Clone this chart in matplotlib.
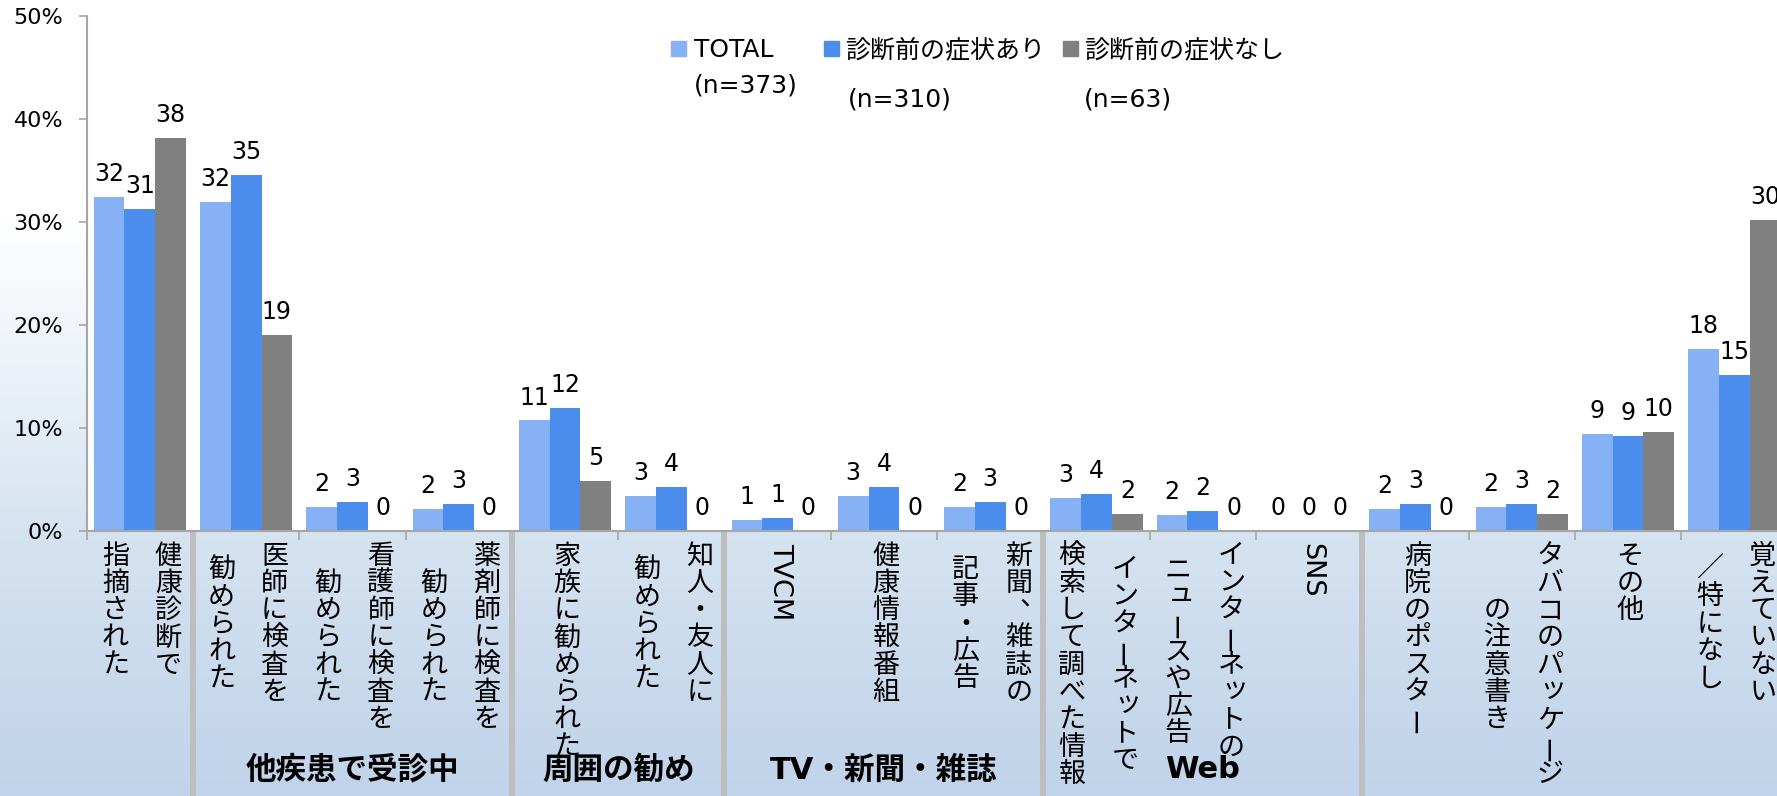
import matplotlib
matplotlib.use("Agg")
import matplotlib.pyplot as plt
import matplotlib.transforms as mtransforms
from matplotlib.patches import Rectangle
import numpy as np

W, H = 1777, 796

# category labels: first entry = right-hand column of the vertical text
categories = [
    ["健康診断で", "指摘された"],
    ["医師に検査を", "勧められた"],
    ["看護師に検査を", "勧められた"],
    ["薬剤師に検査を", "勧められた"],
    ["家族に勧められた"],
    ["知人・友人に", "勧められた"],
    ["TVCM"],
    ["健康情報番組"],
    ["新聞、雑誌の", "記事・広告"],
    ["インターネットで", "検索して調べた情報"],
    ["インターネットの", "ニュースや広告"],
    ["SNS"],
    ["病院のポスター"],
    ["タバコのパッケージ", "の注意書き"],
    ["その他"],
    ["覚えていない", "／特になし"],
]
groups = ["他疾患で受診中", "周囲の勧め", "TV・新聞・雑誌", "Web"]
group_spans = [(1, 3), (4, 5), (6, 8), (9, 11)]
separators = [1, 4, 6, 9, 12]

series_names = ["TOTAL", "診断前の症状あり", "診断前の症状なし"]
series_n = ["(n=373)", "(n=310)", "(n=63)"]
total = [32.4, 31.9, 2.3, 2.1, 10.7, 3.4, 1.0, 3.4, 2.3, 3.2, 1.55, 0, 2.1, 2.3, 9.4, 17.6]
with_sym = [31.2, 34.55, 2.8, 2.6, 11.9, 4.2, 1.2, 4.2, 2.8, 3.55, 1.9, 0, 2.6, 2.6, 9.2, 15.1]
without_sym = [38.1, 19.0, 0, 0, 4.8, 0, 0, 0, 0, 1.6, 0, 0, 0, 1.6, 9.55, 30.2]
colors = ["#86B1F5", "#4A8DED", "#808080"]

plt.rcParams['font.family'] = ['DejaVu Sans', 'Noto Sans CJK JP']

fig = plt.figure(figsize=(W / 100, H / 100), dpi=100)

# background gradient (white at top, pale blue at the bottom)
bg = fig.add_axes([0, 0, 1, 1], zorder=-10)
ys = np.arange(H)
stops_y = [0, 220, 540, 796]
stops_c = np.array([[255, 255, 255], [255, 255, 255], [213, 226, 240], [192, 211, 234]]) / 255
grad = np.stack([np.interp(ys, stops_y, stops_c[:, k]) for k in range(3)], axis=-1)[:, None, :]
bg.imshow(grad, aspect='auto', extent=[0, 1, 0, 1])
bg.axis('off')

# plot area: runs slightly past the right edge like the cropped original
left_px, bottom_px, top_px = 86.7, 530.7, 15.7
right_px = 1787.5
ax = fig.add_axes([left_px / W, 1 - bottom_px / H, (right_px - left_px) / W, (bottom_px - top_px) / H])
ax.set_facecolor('white')
pxc = (right_px - left_px) / len(categories)

x = np.arange(len(categories))
bw = 0.289
for k, vals in enumerate([total, with_sym, without_sym]):
    off = (k - 1) * bw
    ax.bar(x + off, vals, width=bw, color=colors[k], zorder=2)
    for xi, v in zip(x, vals):
        ax.annotate(f"{v:.0f}", (xi + off, v), xytext=(0, 11.5), textcoords='offset points',
                    ha='center', va='baseline', fontsize=17, color='black')

ax.set_xlim(-0.5, len(categories) - 0.5)
ax.set_ylim(0, 50)
ax.set_yticks(range(0, 51, 10))
ax.set_yticklabels([f"{t}%" for t in range(0, 51, 10)], fontsize=16)
ax.set_xticks(np.arange(len(categories) + 1) - 0.5)
ax.set_xticklabels([])
ax.tick_params(axis='y', length=5.8, width=1.2, pad=11, color='#a6a6a6')
ax.tick_params(axis='x', length=6.5, width=1.2, color='#a6a6a6')
for s in ['top', 'right']:
    ax.spines[s].set_visible(False)
for s in ['left', 'bottom']:
    ax.spines[s].set_color('#a6a6a6')
    ax.spines[s].set_linewidth(1.5)

trans = mtransforms.blended_transform_factory(ax.transData, fig.transFigure)

# vertical (tategaki) category labels
pitch = 27.3
y_first = 556
small_kana = 'ッャュョァィゥェォっゃゅょ'
for i, lines in enumerate(categories):
    if len(lines) == 1:
        col_dx = [2]
    else:
        col_dx = [28.5, -24.5]
    longest = max(len(s) for s in lines)
    for line, dx in zip(lines, col_dx):
        xd = i + dx / pxc
        if line.isascii():
            ax.text(xd, 1 - 543 / H, line, transform=trans, rotation=-90, ha='center', va='top',
                    fontsize=19.5, family=['DejaVu Sans'])
            continue
        y0 = y_first + (longest - len(line)) / 2 * pitch
        for j, ch in enumerate(line):
            cx, cy, rot = 0, 0, 0
            if ch == 'ー':
                rot = 90
            elif ch in small_kana:
                cx, cy = 3, -3
            elif ch in '、。':
                cx, cy = 14, -14
            ax.text(xd + cx / pxc, 1 - (y0 + j * pitch + cy) / H, ch, transform=trans,
                    rotation=rot, rotation_mode='anchor', ha='center', va='center',
                    fontsize=19.5, family=['Noto Sans CJK JP'])

# group separators and group titles
for b in separators:
    ax.plot([b - 0.5, b - 0.5], [1 - 531.5 / H, 0], transform=trans, clip_on=False,
            color='#bebebe', lw=4.3, solid_capstyle='butt')
for name, (a, b) in zip(groups, group_spans):
    ax.text((a + b) / 2, 1 - 770 / H, name, transform=trans, ha='center', va='center',
            fontsize=22, fontweight='bold')

# legend drawn as in the original (wrapped entries)
sq_x = [671, 823.5, 1062.5]
txt_x = [693.8, 844.6, 1084]
n_base = [93, 106.5, 106.5]
for k in range(3):
    fig.add_artist(Rectangle((sq_x[k] / W, 1 - 56 / H), 15 / W, 15 / H,
                             transform=fig.transFigure, color=colors[k]))
    fig.text(txt_x[k] / W, 1 - 57 / H, series_names[k], ha='left', va='baseline', fontsize=18)
    fig.text((txt_x[k] + (3 if k == 1 else 0)) / W, 1 - n_base[k] / H, series_n[k],
             ha='left', va='baseline', fontsize=18)

fig.savefig("out.png", dpi=100)
